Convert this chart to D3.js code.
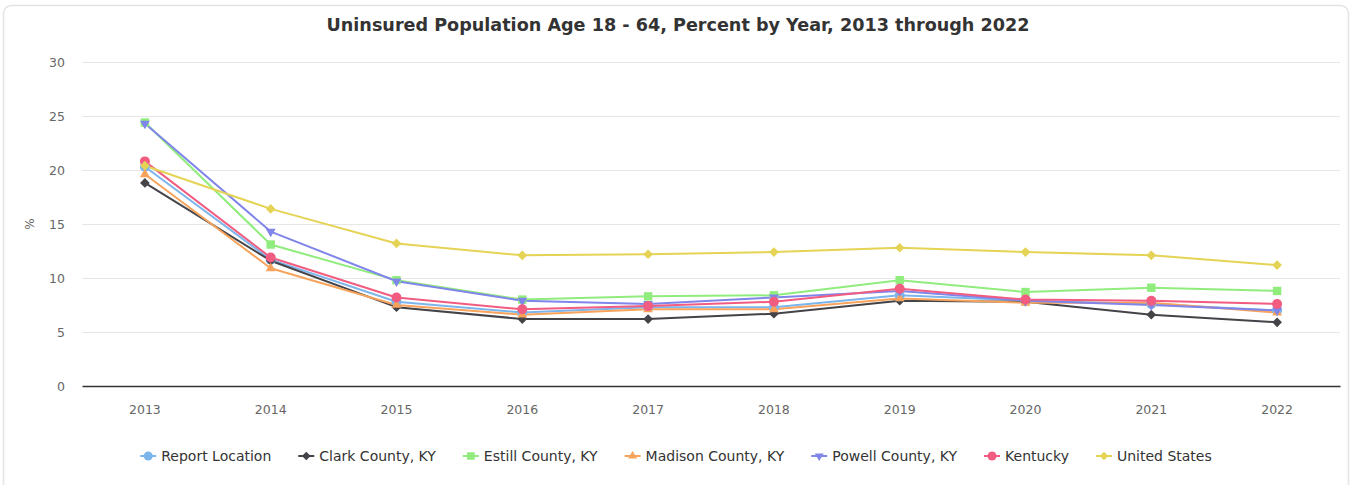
<!DOCTYPE html>
<html><head><meta charset="utf-8">
<script src="https://cdn.jsdelivr.net/npm/d3@7"></script>
<style>body{margin:0;background:#fff;font-family:"DejaVu Sans",sans-serif}</style>
</head><body><svg id="c" width="1352" height="485"></svg>
<script>
const years = ["2013","2014","2015","2016","2017","2018","2019","2020","2021","2022"];
const yTicks = [0,5,10,15,20,25,30];
const reportLocation = [20.3,11.7,7.8,6.8,7.3,7.3,8.4,7.9,7.6,7.0];
const clarkCounty    = [18.8,11.6,7.3,6.2,6.2,6.7,7.9,7.8,6.6,5.9];
const estillCounty   = [24.4,13.1,9.8,8.0,8.3,8.4,9.8,8.7,9.1,8.8];
const madisonCounty  = [19.6,10.9,7.5,6.6,7.1,7.1,8.1,7.7,7.7,6.8];
const powellCounty   = [24.3,14.3,9.7,7.9,7.6,8.2,8.8,7.9,7.5,7.0];
const kentucky       = [20.8,11.9,8.2,7.1,7.4,7.8,9.0,8.0,7.9,7.6];
const unitedStates   = [20.4,16.4,13.2,12.1,12.2,12.4,12.8,12.4,12.1,11.2];
const seriesNames  = ["Report Location","Clark County, KY","Estill County, KY","Madison County, KY","Powell County, KY","Kentucky","United States"];
const seriesValues = [reportLocation,clarkCounty,estillCounty,madisonCounty,powellCounty,kentucky,unitedStates];
const colors  = ["#7cb5ec","#434348","#90ed7d","#f7a35c","#8085e9","#f15c80","#e4d354"];
const symbols = ["circle","diamond","square","triangle","triangle-down","circle","diamond"];

const svg = d3.select("#c");
svg.append("rect").attr("x",3.5).attr("y",5.5).attr("width",1345).attr("height",500)
  .attr("rx",8).attr("fill","#fff").attr("stroke","#e3e3e3").attr("stroke-width",1.5);

const pL=82,pR=1340,pT=62,pB=386;
const x = d3.scaleBand().domain(years).range([pL,pR]);
const y = d3.scaleLinear().domain([0,30]).range([pB,pT]);

svg.append("text").attr("x",678).attr("y",31).attr("text-anchor","middle")
  .attr("font-size",17.6).attr("font-weight","bold").attr("fill","#333")
  .text("Uninsured Population Age 18 - 64, Percent by Year, 2013 through 2022");

svg.append("g").selectAll("line").data(yTicks.filter(d=>d>0)).join("line")
  .attr("x1",pL).attr("x2",pR).attr("y1",d=>y(d)+0.5).attr("y2",d=>y(d)+0.5)
  .attr("stroke","#e6e6e6");
const ya = svg.append("g").attr("transform",`translate(${pL},0)`)
  .call(d3.axisLeft(y).tickValues(yTicks).tickSize(0).tickPadding(17));
ya.select(".domain").remove();
ya.selectAll("text").attr("font-size",12.5).attr("fill","#666").attr("font-family","DejaVu Sans");
svg.append("text").attr("transform","translate(34,224) rotate(-90)").attr("text-anchor","middle")
  .attr("font-size",12).attr("fill","#666").text("%");
const xa = svg.append("g").attr("transform",`translate(0,${pB})`)
  .call(d3.axisBottom(x).tickSize(0).tickPadding(19));
xa.select(".domain").attr("stroke","#333").attr("stroke-width",1.5);
xa.selectAll("text").attr("font-size",12.5).attr("fill","#666").attr("font-family","DejaVu Sans");

const symMap = {circle:d3.symbolCircle,diamond:d3.symbolDiamond2,square:d3.symbolSquare2,triangle:d3.symbolTriangle2};
function sym(name,size){
  if(name==="triangle-down") return d3.symbol(d3.symbolTriangle2,size)();
  return d3.symbol(symMap[name],size)();
}
const sizes = {circle:78,diamond:60,square:90,triangle:70,"triangle-down":70};
const line = d3.line().x((d,i)=>x(years[i])+x.bandwidth()/2).y(d=>y(d));
const plot = svg.append("g");
seriesValues.forEach((vals,si)=>{
  plot.append("path").attr("d",line(vals)).attr("fill","none")
    .attr("stroke",colors[si]).attr("stroke-width",2).attr("stroke-linejoin","round");
});
seriesValues.forEach((vals,si)=>{
  plot.append("g").selectAll("path").data(vals).join("path")
    .attr("d",sym(symbols[si],sizes[symbols[si]]))
    .attr("transform",(d,i)=>`translate(${x(years[i])+x.bandwidth()/2},${y(d)})`+(symbols[si]==="triangle-down"?" rotate(180)":""))
    .attr("fill",colors[si]);
});

const lg = svg.append("g");
let cx = 0;
seriesNames.forEach((n,i)=>{
  const g = lg.append("g");
  g.append("line").attr("x1",0).attr("x2",16).attr("y1",0).attr("y2",0).attr("stroke",colors[i]).attr("stroke-width",2);
  g.append("path").attr("d",sym(symbols[i],sizes[symbols[i]]*0.8))
    .attr("transform","translate(8,0)"+(symbols[i]==="triangle-down"?" rotate(180)":"")).attr("fill",colors[i]);
  const t = g.append("text").attr("x",21).attr("y",5).attr("font-size",14).attr("fill","#333").text(n);
  const w = 21 + t.node().getComputedTextLength();
  g.attr("transform",`translate(${cx},456)`);
  cx += w + 27;
});
const total = cx - 27;
lg.attr("transform",`translate(${676-total/2},0)`);
</script></body></html>
